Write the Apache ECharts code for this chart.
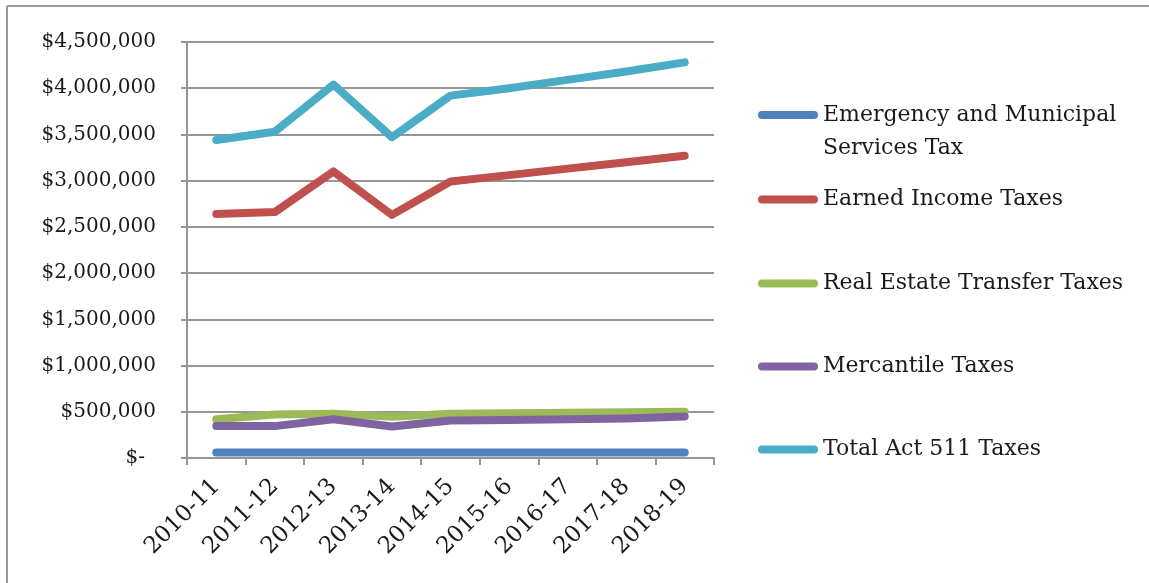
<!DOCTYPE html>
<html>
<head>
<meta charset="utf-8">
<script src="https://cdn.jsdelivr.net/npm/echarts@6/dist/echarts.min.js"></script>
<style>
  html, body { margin: 0; padding: 0; background: #fff; }
  #chart { width: 1149px; height: 583px; }
</style>
</head>
<body>
<div id="chart"></div>
<script>
// Fiscal years on the category axis
const categories = ['2010-11', '2011-12', '2012-13', '2013-14', '2014-15', '2015-16', '2016-17', '2017-18', '2018-19'];

// Revenue by tax type (dollars)
const emergencyMunicipal = [60000, 60000, 60000, 60000, 60000, 60000, 60000, 60000, 60000];
const earnedIncome = [2640000, 2660000, 3100000, 2630000, 2990000, 3060000, 3130000, 3200000, 3270000];
const realEstateTransfer = [418000, 470000, 480000, 446000, 480000, 485000, 490000, 495000, 500000];
const mercantile = [346000, 345000, 420000, 340000, 405000, 412000, 420000, 428000, 450000];
const totalAct511 = [3440000, 3530000, 4040000, 3470000, 3920000, 4000000, 4090000, 4180000, 4280000];

// Value-axis range
const yMin = 0;
const yMax = 4500000;
const yStep = 500000;

const seriesDefs = [
  { name: 'Emergency and Municipal\nServices Tax', data: emergencyMunicipal, color: '#4F81BD' },
  { name: 'Earned Income Taxes', data: earnedIncome, color: '#C0504D' },
  { name: 'Real Estate Transfer Taxes', data: realEstateTransfer, color: '#9BBB59' },
  { name: 'Mercantile Taxes', data: mercantile, color: '#8064A2' },
  { name: 'Total Act 511 Taxes', data: totalAct511, color: '#4BACC6' }
];

const serif = '"DejaVu Serif", "Liberation Serif", serif';
const textColor = '#1a1a1a';
const gridColor = '#969696';

// one legend block per series, stacked down the right side
const legendTops = [64, 186, 270, 353, 436];
const pillIcon = 'path://M4,0 H56 A4,4 0 0 1 56,8 H4 A4,4 0 0 1 4,0 Z';

const legends = seriesDefs.map((s, i) => {
  const twoLine = s.name.indexOf('\n') >= 0;
  return {
    data: [s.name],
    left: 758,
    top: legendTops[i],
    padding: 0,
    orient: 'vertical',
    icon: pillIcon,
    itemWidth: 60,
    itemHeight: 8,
    selectedMode: false,
    // a leading blank line keeps the first text line level with the swatch
    formatter: twoLine ? function (name) { return '\u00a0\n' + name; } : undefined,
    textStyle: { fontFamily: serif, fontSize: 22, color: textColor, lineHeight: twoLine ? 33 : 24, padding: [3, 0, 0, 0] }
  };
});

const chart = echarts.init(document.getElementById('chart'), null, { renderer: 'canvas' });

chart.setOption({
  animation: false,
  backgroundColor: '#ffffff',
  grid: { left: 187, right: 435, top: 42, bottom: 125, containLabel: false },
  legend: legends,
  graphic: [
    // chart frame: left and top edges
    { type: 'line', shape: { x1: 7, y1: 6, x2: 7, y2: 583 }, style: { stroke: '#9a9a9a', lineWidth: 2 } },
    { type: 'line', shape: { x1: 7, y1: 6, x2: 1149, y2: 6 }, style: { stroke: '#9a9a9a', lineWidth: 2 } }
  ],
  xAxis: {
    type: 'category',
    data: categories,
    boundaryGap: true,
    axisLine: { show: true, lineStyle: { color: gridColor, width: 2 } },
    axisTick: { show: true, alignWithLabel: false, length: 7, lineStyle: { color: gridColor, width: 2 } },
    axisLabel: {
      rotate: 45,
      margin: 25,
      interval: 0,
      fontFamily: serif,
      fontSize: 23,
      color: textColor
    },
    splitLine: { show: false }
  },
  yAxis: {
    type: 'value',
    min: yMin,
    max: yMax,
    interval: yStep,
    axisLine: { show: true, lineStyle: { color: gridColor, width: 2 } },
    axisTick: { show: true, length: 6, lineStyle: { color: gridColor, width: 2 } },
    splitLine: { show: true, lineStyle: { color: gridColor, width: 2 } },
    axisLabel: {
      margin: 31,
      fontFamily: serif,
      fontSize: 20,
      color: textColor,
      formatter: function (v) {
        if (v === 0) return '{z|$-}';
        return '$' + v.toLocaleString('en-US');
      },
      rich: {
        z: { fontFamily: serif, fontSize: 20, color: textColor, padding: [0, 11, 0, 0] }
      }
    }
  },
  series: seriesDefs.map(s => ({
    name: s.name,
    type: 'line',
    data: s.data,
    showSymbol: false,
    symbol: 'none',
    color: s.color,
    lineStyle: { color: s.color, width: 8, cap: 'round', join: 'round' },
    emphasis: { disabled: true }
  }))
});
</script>
</body>
</html>
